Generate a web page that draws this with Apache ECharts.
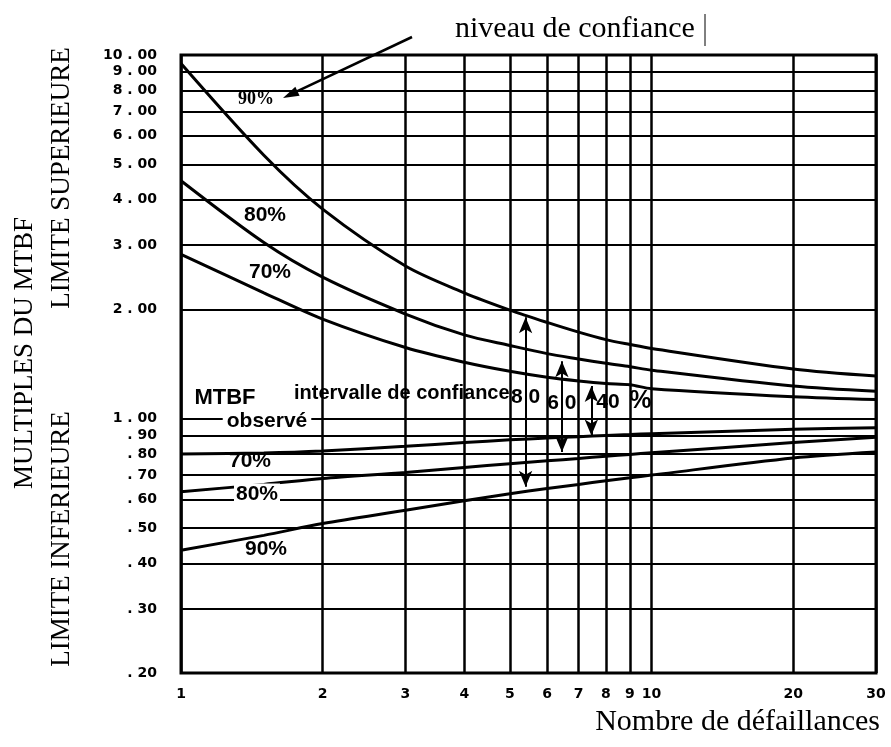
<!DOCTYPE html>
<html><head><meta charset="utf-8">
<script src="https://cdn.jsdelivr.net/npm/echarts@6/dist/echarts.min.js"></script>
<style>html,body{margin:0;padding:0;background:#fff}#c{width:891px;height:747px}</style>
</head><body><div id="c"></div>
<script>
// ---- data ----
const failures = [1, 1.5, 2, 3, 4, 5, 6, 7, 8, 9, 10, 20, 30];
const upper90 = [9.47, 5.3, 3.77, 2.63, 2.22, 1.99, 1.84, 1.73, 1.65, 1.60, 1.56, 1.37, 1.31];
const upper80 = [4.51, 3.05, 2.45, 1.94, 1.70, 1.59, 1.51, 1.46, 1.42, 1.39, 1.36, 1.23, 1.19];
const upper70 = [2.83, 2.22, 1.88, 1.57, 1.43, 1.35, 1.30, 1.27, 1.25, 1.24, 1.21, 1.15, 1.13];
const lower70 = [0.80, 0.805, 0.815, 0.84, 0.86, 0.875, 0.885, 0.893, 0.90, 0.905, 0.91, 0.935, 0.945];
const lower80 = [0.63, 0.66, 0.685, 0.712, 0.735, 0.752, 0.766, 0.778, 0.789, 0.798, 0.806, 0.86, 0.89];
const lower90 = [0.435, 0.478, 0.515, 0.56, 0.595, 0.622, 0.643, 0.66, 0.675, 0.688, 0.70, 0.78, 0.81];

const xTickValues = [1, 2, 3, 4, 5, 6, 7, 8, 9, 10, 20, 30];
const xTickLabels = ['1', '2', '3', '4', '5', '6', '7', '8', '9', '10', '20', '30'];
const yTickValues = [10, 9, 8, 7, 6, 5, 4, 3, 2, 1, 0.9, 0.8, 0.7, 0.6, 0.5, 0.4, 0.3, 0.2];
const yTickLabels = ['10.00', '9.00', '8.00', '7.00', '6.00', '5.00', '4.00', '3.00', '2.00',
                     '1.00', '.90', '.80', '.70', '.60', '.50', '.40', '.30', '.20'];

// confidence-interval arrows (80 %, 60 %, 40 %)
const intervalX = [5.4, 6.45, 7.45];
const intervalTop = [1.90, 1.44, 1.23];
const intervalBottom = [0.65, 0.81, 0.90];
const intervalLabels = ['8 0', '6 0', '40'];

// ---- chart ----
const chart = echarts.init(document.getElementById('c'), null, {renderer: 'canvas'});
const SANS = '"Liberation Sans","Arimo",Arial,sans-serif';
const SERIF = '"Liberation Serif","DejaVu Serif",serif';

function curve(name, ys) {
  return {
    name: name, type: 'line', smooth: 0.3, symbol: 'none', silent: true,
    animation: false, z: 4,
    lineStyle: {color: '#000', width: 3},
    data: failures.map((x, i) => [x, ys[i]])
  };
}

const tickLabel = (distance) => ({show: true, position: 'start', formatter: '{b}', distance: distance,
  color: '#000', fontWeight: 'bold', fontSize: 14, fontFamily: '"DejaVu Sans",sans-serif'});

const gridSeries = {
  name: 'grid', type: 'line', symbol: 'none', silent: true, animation: false,
  data: [], z: 2,
  markLine: {
    silent: true, symbol: 'none', animation: false, precision: 4,
    lineStyle: {color: '#000', width: 2, type: 'solid'},
    data: [
      ...yTickValues.map((v, i) => ({
        name: yTickLabels[i].replace('.', ' . ').trim(), yAxis: v,
        label: tickLabel(24)
      })),
      ...xTickValues.map((v, i) => ({
        name: xTickLabels[i], xAxis: v,
        lineStyle: {width: 2.5},
        label: tickLabel(14)
      }))
    ]
  }
};

const arrowSeries = {
  name: 'intervals', type: 'line', symbol: 'none', silent: true, animation: false,
  data: [], z: 5,
  markLine: {
    silent: true, animation: false, symbol: ['arrow', 'arrow'], symbolSize: [10, 16],
    lineStyle: {color: '#000', width: 2, type: 'solid'},
    label: {show: false},
    data: intervalX.map((x, i) => [{coord: [x, intervalTop[i]]}, {coord: [x, intervalBottom[i]]}])
  }
};

chart.setOption({
  backgroundColor: '#fff',
  animation: false,
  grid: {left: 181, right: 15, top: 55, bottom: 74, show: true,
         borderColor: '#000', borderWidth: 3, backgroundColor: 'transparent'},
  xAxis: {type: 'log', logBase: 10, min: 1, max: 30,
          axisLine: {show: false}, axisTick: {show: false},
          axisLabel: {show: false}, splitLine: {show: false}, minorSplitLine: {show: false}},
  yAxis: {type: 'log', logBase: 10, min: 0.2, max: 10,
          axisLine: {show: false}, axisTick: {show: false},
          axisLabel: {show: false}, splitLine: {show: false}, minorSplitLine: {show: false}},
  series: [
    gridSeries,
    curve('supérieure 90%', upper90),
    curve('supérieure 80%', upper80),
    curve('supérieure 70%', upper70),
    curve('inférieure 70%', lower70),
    curve('inférieure 80%', lower80),
    curve('inférieure 90%', lower90),
    arrowSeries
  ]
});

// ---- annotations ----
const px = (x, y) => chart.convertToPixel({gridIndex: 0}, [x, y]);
function txt(text, x, y, font, align, extra) {
  return Object.assign({
    type: 'text', x: x, y: y, z: 100, silent: true,
    style: Object.assign({text: text, font: font, fill: '#000',
      align: align || 'center', verticalAlign: 'middle',
      textAlign: align || 'center', textVerticalAlign: 'middle'}, (extra && extra.style) || {})
  }, extra && extra.el || {});
}
const labFont = 'bold 21px ' + SANS;
const a1 = px(intervalX[0], 1), a2 = px(intervalX[1], 1), a3 = px(intervalX[2], 1);

// arrow for "niveau de confiance"
const tip = [283, 98], start = [412, 37];
const dx = tip[0] - start[0], dy = tip[1] - start[1], L = Math.hypot(dx, dy);
const ux = dx / L, uy = dy / L, hl = 16, hw = 5;
const bx = tip[0] - ux * hl, by = tip[1] - uy * hl;

chart.setOption({
  graphic: [
    txt('niveau de confiance', 455, 29, '30px ' + SERIF, 'left'),
    {type: 'line', z: 100, silent: true, shape: {x1: 705, y1: 14, x2: 705, y2: 46},
     style: {stroke: '#000', lineWidth: 1}},
    {type: 'line', z: 100, silent: true, shape: {x1: start[0], y1: start[1], x2: bx, y2: by},
     style: {stroke: '#000', lineWidth: 2.5}},
    {type: 'polygon', z: 100, silent: true,
     shape: {points: [tip, [bx - uy * hw, by + ux * hw], [bx + uy * hw, by - ux * hw]]},
     style: {fill: '#000'}},
    txt('MULTIPLES DU MTBF', 25, 353, '27px ' + SERIF, 'center', {el: {rotation: Math.PI / 2}}),
    txt('LIMITE SUPERIEURE', 62, 178, '27px ' + SERIF, 'center', {el: {rotation: Math.PI / 2}}),
    txt('LIMITE INFERIEURE', 62, 539, '27px ' + SERIF, 'center', {el: {rotation: Math.PI / 2}}),
    txt('Nombre de défaillances', 880, 722, '30px ' + SERIF, 'right'),
    // upper limit labels
    txt('90%', 256, 99, 'bold 18px ' + SERIF),
    txt('80%', 265, 215, labFont),
    txt('70%', 270, 272, labFont),
    // lower limit labels
    txt('70%', 250, 461, labFont),
    txt('80%', 257, 494, labFont, 'center', {style: {backgroundColor: '#fff', padding: [0, 2]}}),
    txt('90%', 266, 549, labFont),
    txt('MTBF', 225, 398, 'bold 22px ' + SANS),
    txt('observé', 267, 421, labFont, 'center', {style: {backgroundColor: '#fff', padding: [0, 4]}}),
    txt('intervalle de confiance', a1[0] - 16, 393, 'bold 20px ' + SANS, 'right'),
    txt(intervalLabels[0], a1[0], 397, labFont),
    txt(intervalLabels[1], a2[0], 403, labFont),
    txt(intervalLabels[2], a3[0] + 5, 402, labFont, 'left'),
    txt('%', a3[0] + 38, 401, 'bold 25px ' + SANS, 'left')
  ]
});
</script>
</body></html>
